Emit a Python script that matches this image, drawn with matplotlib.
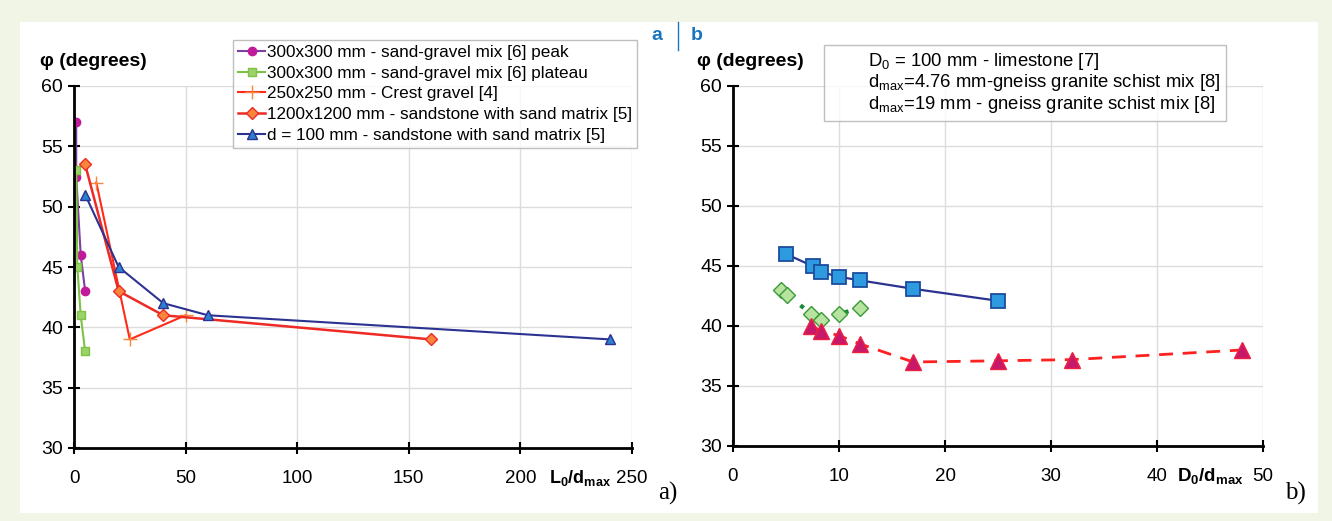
import matplotlib.pyplot as plt
from matplotlib.lines import Line2D
from matplotlib.patches import Rectangle

plt.rcParams['font.family'] = ['Liberation Sans', 'DejaVu Sans']
plt.rcParams['mathtext.default'] = 'regular'

# ---- panel a data ----
peak_x = [1, 1, 3, 5]
peak_y = [57, 52.5, 46, 43]
plat_x = [1, 1.5, 3, 5]
plat_y = [53, 45, 41, 38]
crest_x = [10, 25, 50]
crest_y = [52, 39, 41]
big_x = [5, 20, 40, 160]
big_y = [53.5, 43, 41, 39]
d100_x = [5, 20, 40, 60, 240]
d100_y = [51, 45, 42, 41, 39]
labels_a = ['300x300 mm - sand-gravel mix [6] peak',
            '300x300 mm - sand-gravel mix [6] plateau',
            '250x250 mm - Crest gravel [4]',
            '1200x1200 mm - sandstone with sand matrix [5]',
            'd = 100 mm - sandstone with sand matrix [5]']

# ---- panel b data ----
lime_x = [5, 7.5, 8.3, 10, 12, 17, 25]
lime_y = [46, 45, 44.5, 44.1, 43.8, 43.1, 42.1]
g476_x = [4.5, 5.1, 7.4, 8.3, 10, 12]
g476_y = [43, 42.6, 41, 40.5, 41, 41.5]
g19_x = [7.4, 8.3, 10, 12, 17, 25, 32, 48]
g19_y = [40, 39.6, 39.2, 38.5, 37, 37.1, 37.2, 38]
labels_b = [r'D$_0$ = 100 mm - limestone [7]',
            r'd$_{max}$=4.76 mm-gneiss granite schist mix [8]',
            r'd$_{max}$=19 mm - gneiss granite schist mix [8]']

W, H = 1332, 521
fig = plt.figure(figsize=(W/100, H/100), dpi=100)
fig.patch.set_facecolor('#f1f5e6')
fig.add_artist(Rectangle((20/W, 1-513/H), 1298/W, 491/H, transform=fig.transFigure,
                         facecolor='white', edgecolor='none', zorder=-10))

def style(ax, xmax, xstep):
    ax.set_facecolor('none')
    ax.set_ylim(30, 60)
    ax.set_xlim(0, xmax)
    ax.set_yticks(range(30, 61, 5))
    ax.set_xticks(range(0, xmax+1, xstep))
    ax.grid(True, color='#dcdcdc', lw=1)
    for s in ['top', 'right']:
        ax.spines[s].set_visible(False)
    for s in ['left', 'bottom']:
        ax.spines[s].set_linewidth(2)
    ax.axhline(60, color='#b0b0b0', lw=1.2, zorder=0)
    ax.tick_params(direction='inout', length=8, width=1.5, labelsize=14, pad=4)
    ax.tick_params(axis='x', labelsize=13.5, pad=12)
    ax.set_axisbelow(True)

# panel a
ax1 = fig.add_axes([74/W, 1-448/H, 558/W, 362/H])
style(ax1, 250, 50)
h1, = ax1.plot(peak_x, peak_y, '-o', color='#7b3f9e', mfc='#c0199a', mec='#c0199a', ms=6, lw=1.5)
h2, = ax1.plot(plat_x, plat_y, '-s', color='#7dc242', mfc='#9bd36a', mec='#7dc242', ms=6, lw=1.5)
h3, = ax1.plot(crest_x, crest_y, '-+', color='#ff2a1a', mec='#f7863c', ms=10, lw=1.5)
h4, = ax1.plot(big_x, big_y, '-D', color='#ee2a24', mfc='#f7863c', mec='#ee2a24', ms=6, lw=1.8)
h5, = ax1.plot(d100_x, d100_y, '-^', color='#2b3290', mfc='#2d7fd0', mec='#2b3290', ms=7, lw=1.5)
fig.legend([h1, h2, h3, h4, h5], labels_a, loc='upper left',
           bbox_to_anchor=(233/W, 1-40/H), fontsize=12.3, frameon=True, fancybox=False,
           edgecolor='#b0b0b0', handlelength=1.6, handletextpad=0.1, labelspacing=0.33,
           borderpad=0.3, borderaxespad=0)
fig.text(40/W, 1-62/H, 'φ (degrees)', fontsize=14, fontweight='bold', va='center', ha='left')
fig.text(580/W, 1-478/H, r'L$_0$/d$_{max}$', fontsize=13, fontweight='bold', va='center', ha='center')
fig.text(668/W, 1-493/H, 'a)', fontsize=18, family='Liberation Serif', va='center', ha='center')

# panel b
ax2 = fig.add_axes([733/W, 1-446/H, 530/W, 360/H])
style(ax2, 50, 10)
ax2.plot(lime_x, lime_y, '-s', color='#2b3290', mfc='#2e9ae0', mec='#1c4c9e', ms=10, lw=1.6, mew=1.3)
ax2.plot(g476_x, g476_y, linestyle=(0, (1, 5)), marker='D', color='#1a8a3a', mfc='#b7e3a0',
         mec='#3a9a3a', ms=8, lw=3)
ax2.plot(g19_x, g19_y, linestyle=(0, (5, 3.5)), marker='^', color='#ff2020', mfc='#c8186a',
         mec='#ee2040', ms=11, lw=2)
blank = [Line2D([], [], ls='none') for _ in labels_b]
fig.legend(blank, labels_b, loc='upper left', bbox_to_anchor=(824/W, 1-45/H), fontsize=13.3,
           frameon=True, fancybox=False, edgecolor='#b0b0b0', handlelength=1.9,
           handletextpad=0.2, labelspacing=0.05, borderpad=0.3, borderaxespad=0)
fig.text(697/W, 1-62/H, 'φ (degrees)', fontsize=14, fontweight='bold', va='center', ha='left')
fig.text(1210/W, 1-476/H, r'D$_0$/d$_{max}$', fontsize=13.5, fontweight='bold', va='center', ha='center')
fig.text(1295/W, 1-493/H, 'b)', fontsize=18, family='Liberation Serif', va='center', ha='center')

# a | b header
fig.text(657/W, 1-35/H, 'a', fontsize=14, fontweight='bold', color='#1a75c0', va='center', ha='center')
fig.text(697/W, 1-35/H, 'b', fontsize=14, fontweight='bold', color='#1a75c0', va='center', ha='center')
fig.add_artist(Line2D([678/W, 678/W], [1-22/H, 1-50/H], transform=fig.transFigure,
                      color='#1a75c0', lw=1))

fig.savefig('out.png', dpi=100, facecolor=fig.get_facecolor())
